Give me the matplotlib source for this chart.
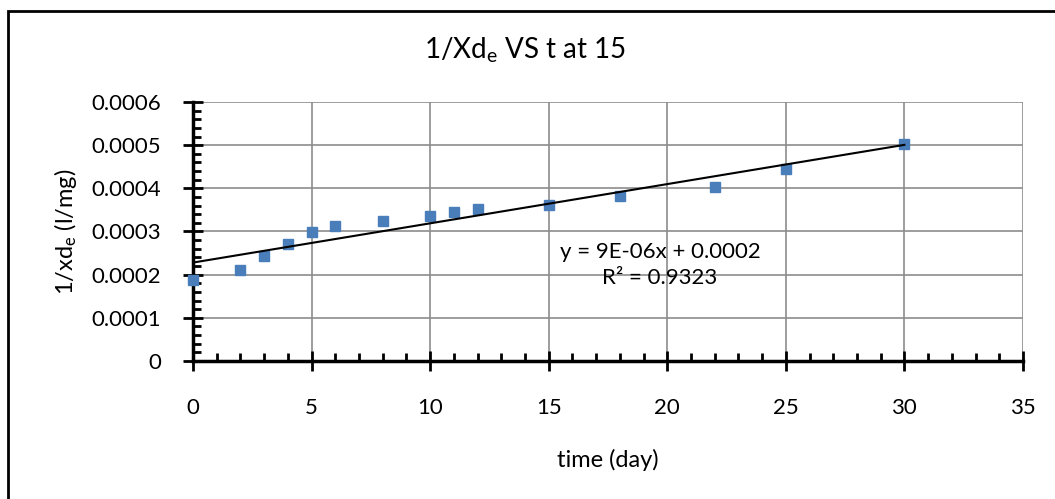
import numpy as np
import matplotlib
matplotlib.use("Agg")
import matplotlib.pyplot as plt
from matplotlib.ticker import MultipleLocator
from matplotlib.patches import Rectangle

days = [0, 2, 3, 4, 5, 6, 8, 10, 11, 12, 15, 18, 22, 25, 30]
inv_xde = [0.000187, 0.000211, 0.000243, 0.000271, 0.000298, 0.000313, 0.000324,
           0.000337, 0.000344, 0.000351, 0.000361, 0.000382, 0.000404, 0.000445, 0.000503]

y_ticks = [0, 0.0001, 0.0002, 0.0003, 0.0004, 0.0005, 0.0006]
y_tick_labels = ["0", "0.0001", "0.0002", "0.0003", "0.0004", "0.0005", "0.0006"]

title = "1/Xd$_{e}$ VS t at 15"
x_label = "time (day)"
y_label = "1/xd$_{e}$ (l/mg)"
eq_text = "y = 9E-06x + 0.0002\nR² = 0.9323"

plt.rcParams["font.family"] = ["Lato", "DejaVu Sans"]
plt.rcParams["mathtext.default"] = "regular"

fig = plt.figure(figsize=(10.55, 4.99), dpi=100)
ax = fig.add_axes([0.1829, 0.2766, 0.7867, 0.519])

# Rahmen (nur oben/links sichtbar)
fig.patches.append(Rectangle((8 / 1055, -0.1), 1.2, 1 - 11 / 499 + 0.1,
                             transform=fig.transFigure, fill=False,
                             edgecolor="black", linewidth=2))

ax.plot(days, inv_xde, linestyle="none", marker="s", markersize=6.5,
        color="#4a7ebb", zorder=6, clip_on=False)

# lineare Trendlinie
slope, intercept = np.polyfit(days, inv_xde, 1)
xs = np.array([min(days), max(days)])
ax.plot(xs, slope * xs + intercept, color="black", linewidth=1.5, zorder=7)

ax.xaxis.set_major_locator(MultipleLocator(5))
ax.xaxis.set_minor_locator(MultipleLocator(1))
ax.set_yticks(y_ticks)
ax.set_yticklabels(y_tick_labels)
ax.yaxis.set_minor_locator(MultipleLocator(0.00002))
ax.set_xlim(0, 35)
ax.set_ylim(0, 0.0006)

ax.grid(True, which="major", color="#8c8c8c", linewidth=1.2, zorder=0)
ax.set_axisbelow(True)
for s in ["top", "right"]:
    ax.spines[s].set_visible(False)
for s in ["left", "bottom"]:
    ax.spines[s].set_linewidth(2.5)
    ax.spines[s].set_zorder(5)

ax.tick_params(which="major", direction="inout", length=14, width=2, labelsize=16)
ax.tick_params(which="minor", direction="in", length=6, width=2)
ax.tick_params(axis="x", pad=20)
ax.tick_params(axis="y", pad=16)

ax.set_xlabel(x_label, fontsize=17, labelpad=22)
ax.set_ylabel(y_label, fontsize=17, labelpad=9)
fig.text(525 / 1055, 1 - 50 / 499, title, ha="center", va="center", fontsize=20)

ax.text(0.5627, 0.37, eq_text, transform=ax.transAxes, ha="center", va="center",
        fontsize=16, linespacing=1.4, zorder=8)

fig.savefig("out.png", dpi=100)
